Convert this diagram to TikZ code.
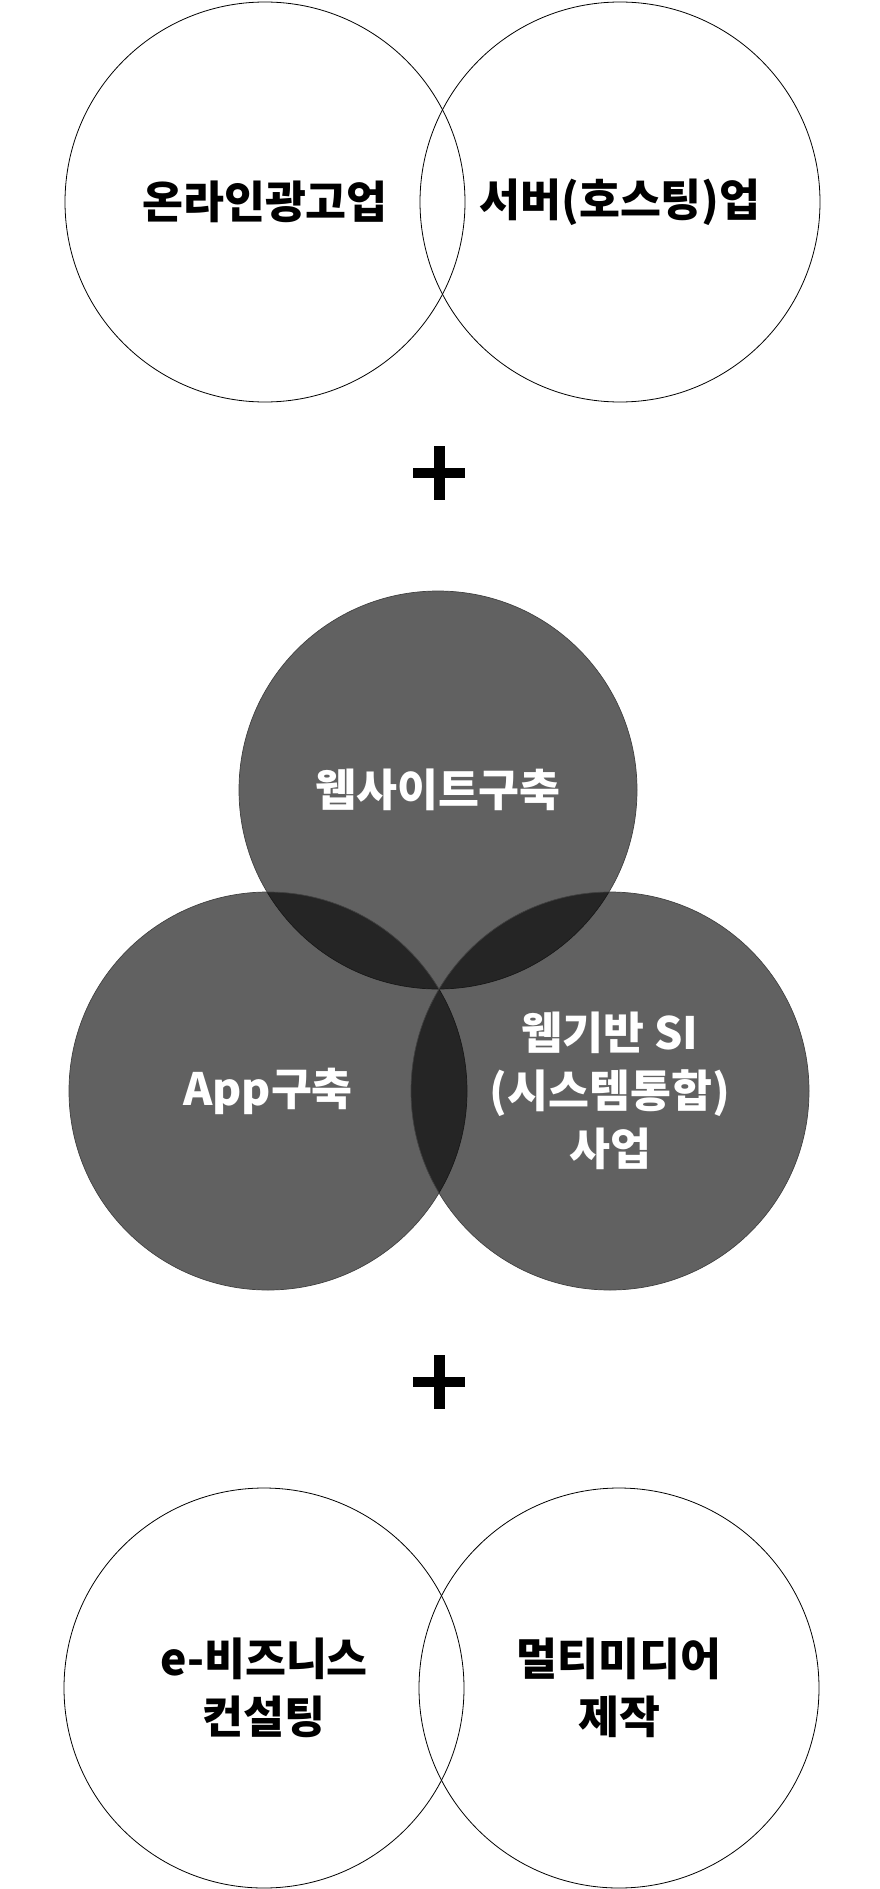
\documentclass[tikz,border=0pt]{standalone}
\usepackage{fontspec}
\newfontfamily\krfont{Noto Sans CJK KR}
\usepackage{tikz}
\usetikzlibrary{positioning,calc}

\begin{document}
\begin{tikzpicture}[
  x=1pt, y=-1pt,
  every node/.style={font=\krfont\bfseries\fontsize{44.5}{58}\selectfont, align=center},
  ring/.style={circle, draw=black, line width=0.8pt, minimum size=400pt, inner sep=0pt},
  blob/.style={circle, draw=black!75, line width=0.7pt, fill=black, fill opacity=0.62, text opacity=1, text=white, minimum size=398pt, inner sep=0pt},
  plussign/.style={minimum size=56pt, inner sep=0pt, path picture={
      \fill[black] ($(path picture bounding box.center)+(-26pt,-5pt)$) rectangle ++(52pt,10.5pt);
      \fill[black] ($(path picture bounding box.center)+(-5.5pt,-27pt)$) rectangle ++(11pt,54pt);}}
]
\useasboundingbox (0,0) rectangle (880,1889);

% top pair
\node[ring] (ad) at (265,202) {온라인광고업};
\node[ring] (host) at (620,202) {서버(호스팅)업};

\node[plussign] (plus1) at (439,473) {};

% three overlapping circles
\node[blob] (web) at (438,790) {웹사이트구축};
\node[blob] (app) at (268,1091) {App구축};
\node[blob] (si) at (610,1091) {웹기반 SI\\(시스템통합)\\사업};

\node[plussign] (plus2) at (439,1382) {};

% bottom pair
\node[ring] (biz) at (264,1688) {e-비즈니스\\컨설팅};
\node[ring] (media) at (619,1688) {멀티미디어\\제작};
\end{tikzpicture}
\end{document}
